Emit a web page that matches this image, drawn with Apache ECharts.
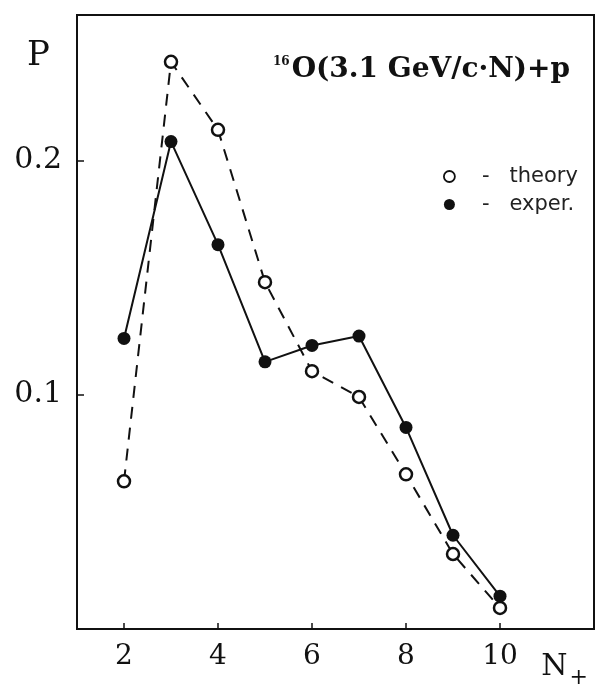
<!DOCTYPE html>
<html>
<head>
<meta charset="utf-8">
<script src="https://cdn.jsdelivr.net/npm/echarts@6/dist/echarts.min.js"></script>
<style>
  html, body { margin: 0; padding: 0; background: #fff; }
  #chart { width: 595px; height: 689px; }
</style>
</head>
<body>
<div id="chart"></div>
<script>
// Charged-particle multiplicity distribution, 16O + p at 3.1 GeV/c per nucleon
const nPlus = [2, 3, 4, 5, 6, 7, 8, 9, 10];
const theory = [0.063, 0.242, 0.213, 0.148, 0.110, 0.099, 0.066, 0.032, 0.009];
const exper = [0.124, 0.208, 0.164, 0.114, 0.121, 0.125, 0.086, 0.040, 0.014];
const xTicks = [2, 4, 6, 8, 10];
const yTicks = [0.1, 0.2];

const serif = '"DejaVu Serif", "Liberation Serif", serif';
const sans = '"DejaVu Sans", sans-serif';

const chart = echarts.init(document.getElementById('chart'));
chart.setOption({
  animation: false,
  backgroundColor: '#fff',
  title: {
    text: '{sup|16}{b|O(3.1 GeV/c·N)+p}',
    left: 268,
    top: 51,
    textStyle: {
      rich: {
        sup: { fontFamily: serif, fontSize: 12, color: '#111', verticalAlign: 'top', padding: [0, 2, 13, 0] },
        b: { fontFamily: serif, fontSize: 28, fontWeight: 'bold', color: '#111' }
      }
    }
  },
  legend: {
    orient: 'vertical',
    left: 438,
    top: 161,
    itemWidth: 11,
    itemHeight: 11,
    itemGap: 7,
    formatter: '-   {name}',
    textStyle: { fontFamily: sans, fontSize: 21, color: '#222', padding: [0, 0, 0, 22] },
    data: [
      { name: 'theory', icon: 'circle', itemStyle: { color: '#fff', borderColor: '#111', borderWidth: 1.8 } },
      { name: 'exper.', icon: 'circle', itemStyle: { color: '#111', borderWidth: 0 } }
    ]
  },
  grid: {
    left: 77, top: 15, right: 1, bottom: 53,
    show: true,
    borderColor: '#111',
    borderWidth: 2,
    containLabel: false
  },
  xAxis: {
    type: 'value',
    min: 1,
    max: 12,
    name: '{n|N}{s|+}',
    nameLocation: 'end',
    nameGap: -6,
    nameTextStyle: {
      align: 'right',
      verticalAlign: 'top',
      padding: [16, 0, 0, 0],
      rich: {
        n: { fontFamily: serif, fontSize: 30, color: '#111' },
        s: { fontFamily: serif, fontSize: 22, color: '#111', padding: [22, 0, 0, 2] }
      }
    },
    axisLine: { lineStyle: { color: '#111', width: 2 } },
    axisTick: { inside: true, length: 6, customValues: xTicks, lineStyle: { color: '#111', width: 1.5 } },
    axisLabel: { customValues: xTicks, margin: 14, fontFamily: serif, fontSize: 28, color: '#111' },
    splitLine: { show: false }
  },
  yAxis: {
    type: 'value',
    min: 0,
    max: 0.262,
    name: 'P',
    nameLocation: 'end',
    nameGap: -58,
    nameTextStyle: { fontFamily: serif, fontSize: 34, color: '#111', align: 'right', padding: [0, 27, 0, 0] },
    axisLine: { lineStyle: { color: '#111', width: 2 } },
    axisTick: { inside: true, length: 7, customValues: yTicks, lineStyle: { color: '#111', width: 1.5 } },
    axisLabel: { customValues: yTicks, margin: 15, fontFamily: serif, fontSize: 30, color: '#111' },
    splitLine: { show: false }
  },
  series: [
    {
      name: 'theory',
      type: 'line',
      data: nPlus.map((n, i) => [n, theory[i]]),
      symbol: 'circle',
      symbolSize: 12,
      itemStyle: { color: '#fff', borderColor: '#111', borderWidth: 2.5 },
      lineStyle: { color: '#111', width: 2, type: [12, 9] },
      z: 2
    },
    {
      name: 'exper.',
      type: 'line',
      data: nPlus.map((n, i) => [n, exper[i]]),
      symbol: 'circle',
      symbolSize: 13,
      itemStyle: { color: '#111', borderWidth: 0 },
      lineStyle: { color: '#111', width: 2 },
      z: 3
    }
  ]
});
</script>
</body>
</html>
